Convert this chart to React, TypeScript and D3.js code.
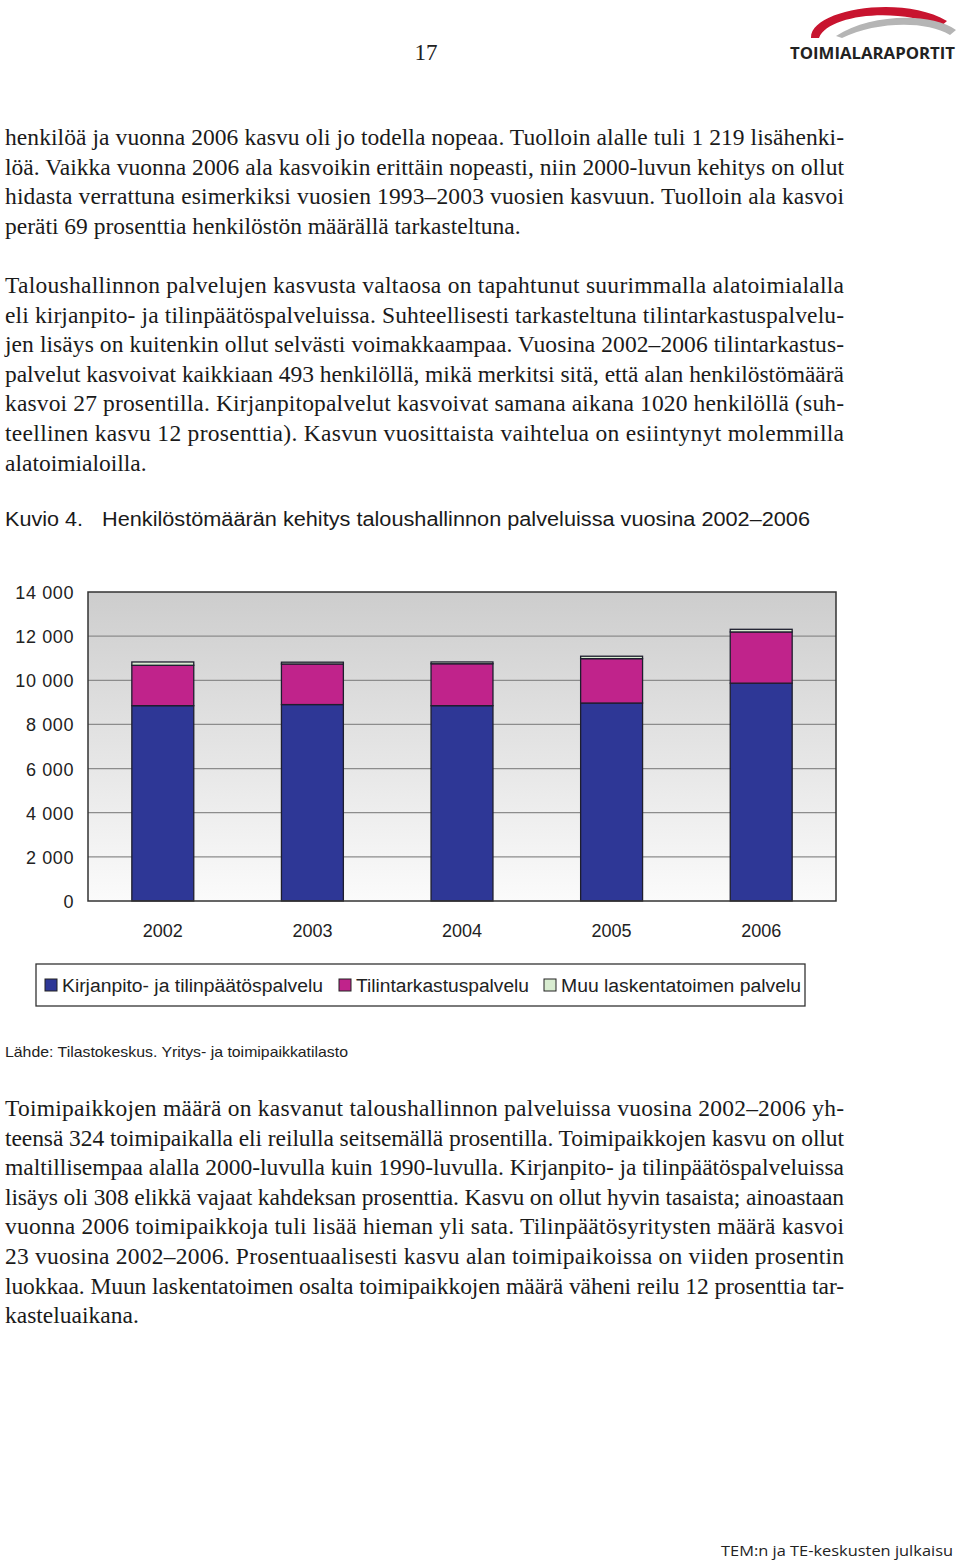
import React from 'react';
import * as d3 from 'd3';

// chart data (persons employed)
const years = ['2002', '2003', '2004', '2005', '2006'];
const kirjanpito = [8850, 8900, 8850, 8970, 9870];
const tilintarkastus = [1830, 1840, 1900, 2010, 2320];
const muu = [150, 80, 80, 110, 120];
const seriesNames = ['Kirjanpito- ja tilinpäätöspalvelu', 'Tilintarkastuspalvelu', 'Muu laskentatoimen palvelu'];
const seriesColors = ['#2e3796', '#c0238b', '#d8ecd0'];
const yTicks = [0, 2000, 4000, 6000, 8000, 10000, 12000, 14000];

// page text, one entry per printed line
const para1 = [
  'henkilöä ja vuonna 2006 kasvu oli jo todella nopeaa. Tuolloin alalle tuli 1 219 lisähenki-',
  'löä. Vaikka vuonna 2006 ala kasvoikin erittäin nopeasti, niin 2000-luvun kehitys on ollut',
  'hidasta verrattuna esimerkiksi vuosien 1993–2003 vuosien kasvuun. Tuolloin ala kasvoi',
  'peräti 69 prosenttia henkilöstön määrällä tarkasteltuna.',
];
const para2 = [
  'Taloushallinnon palvelujen kasvusta valtaosa on tapahtunut suurimmalla alatoimialalla',
  'eli kirjanpito- ja tilinpäätöspalveluissa. Suhteellisesti tarkasteltuna tilintarkastuspalvelu-',
  'jen lisäys on kuitenkin ollut selvästi voimakkaampaa. Vuosina 2002–2006 tilintarkastus-',
  'palvelut kasvoivat kaikkiaan 493 henkilöllä, mikä merkitsi sitä, että alan henkilöstömäärä',
  'kasvoi 27 prosentilla. Kirjanpitopalvelut kasvoivat samana aikana 1020 henkilöllä (suh-',
  'teellinen kasvu 12 prosenttia). Kasvun vuosittaista vaihtelua on esiintynyt molemmilla',
  'alatoimialoilla.',
];
const para3 = [
  'Toimipaikkojen määrä on kasvanut taloushallinnon palveluissa vuosina 2002–2006 yh-',
  'teensä 324 toimipaikalla eli reilulla seitsemällä prosentilla. Toimipaikkojen kasvu on ollut',
  'maltillisempaa alalla 2000-luvulla kuin 1990-luvulla. Kirjanpito- ja tilinpäätöspalveluissa',
  'lisäys oli 308 elikkä vajaat kahdeksan prosenttia. Kasvu on ollut hyvin tasaista; ainoastaan',
  'vuonna 2006 toimipaikkoja tuli lisää hieman yli sata. Tilinpäätösyritysten määrä kasvoi',
  '23 vuosina 2002–2006. Prosentuaalisesti kasvu alan toimipaikoissa on viiden prosentin',
  'luokkaa. Muun laskentatoimen osalta toimipaikkojen määrä väheni reilu 12 prosenttia tar-',
  'kasteluaikana.',
];

const serif = '"Liberation Serif", "Times New Roman", serif';
const sans = '"Liberation Sans", Arial, sans-serif';

const Paragraph = ({ lines, top }: { lines: string[]; top: number }) => (
  <g fontFamily={serif} fontSize={23.5} fill="#1a1a1a">
    {lines.map((l, i) => {
      const last = i === lines.length - 1;
      return (
        <text key={i} x={5} y={top + i * 29.6}
          textLength={last ? undefined : 839} lengthAdjust={last ? undefined : 'spacing'}>
          {l}
        </text>
      );
    })}
  </g>
);

const App = () => {
  const left = 88, right = 836, top = 592, bottom = 901;

  const x = d3.scaleBand().domain(years).range([left, right]).paddingInner(0.586).paddingOuter(0.293);
  const y = d3.scaleLinear().domain([0, 14000]).range([bottom, top]);

  const rows = years.map((yr, i) => ({ year: yr, k: kirjanpito[i], t: tilintarkastus[i], m: muu[i] }));
  const stack = d3.stack<any>().keys(['k', 't', 'm'])(rows);

  const legendItems = [
    { x: 45, label: seriesNames[0], w: 261 },
    { x: 339, label: seriesNames[1], w: 173 },
    { x: 544, label: seriesNames[2], w: 240 },
  ];

  return (
    <svg width={960} height={1564} style={{ position: 'absolute', left: 0, top: 0, background: '#fff' }}>
      <defs>
        <linearGradient id="plotBg" x1="0" y1="0" x2="0" y2="1">
          <stop offset="0" stopColor="#cdcdcd" />
          <stop offset="1" stopColor="#fbfbfb" />
        </linearGradient>
      </defs>

      {/* header */}
      <text x={426} y={60} textAnchor="middle" fontFamily={serif} fontSize={23} fill="#222">17</text>
      <path d="M811,38 C810,10 900,-6 947,21 L940,27 C900,7 828,14 819,38 Z" fill="#c8142f" />
      <path d="M836,36 C870,14 930,12 956,30 L950,35 C925,20 875,22 842,38 Z" fill="#b5b5b5" />
      <text x={790} y={59} fontFamily={'"Open Sans", sans-serif'} fontWeight="bold" fontSize={16}
        textLength={165} lengthAdjust="spacingAndGlyphs" fill="#222">TOIMIALARAPORTIT</text>

      <Paragraph lines={para1} top={145} />
      <Paragraph lines={para2} top={293} />

      {/* figure caption */}
      <text x={5} y={526} fontFamily={sans} fontSize={20} fill="#1a1a1a" textLength={78} lengthAdjust="spacingAndGlyphs">Kuvio 4.</text>
      <text x={102} y={526} fontFamily={sans} fontSize={20} fill="#1a1a1a" textLength={708} lengthAdjust="spacingAndGlyphs">
        Henkilöstömäärän kehitys taloushallinnon palveluissa vuosina 2002–2006
      </text>

      {/* plot area */}
      <rect x={left} y={top} width={right - left} height={bottom - top} fill="url(#plotBg)" />
      {yTicks.slice(1, -1).map((t) => (
        <line key={t} x1={left} x2={right} y1={y(t)} y2={y(t)} stroke="#8c8c8c" strokeWidth={1.2} />
      ))}
      {stack.map((s, si) => (
        <g key={si}>
          {s.map((d: any, i: number) => (
            <rect key={i} x={x(years[i])} y={y(d[1])} width={x.bandwidth()} height={y(d[0]) - y(d[1])}
              fill={seriesColors[si]} stroke="#1e1e2e" strokeWidth={1.3} />
          ))}
        </g>
      ))}
      <rect x={left} y={top} width={right - left} height={bottom - top} fill="none" stroke="#333" strokeWidth={1.5} />

      {/* y axis labels */}
      {yTicks.map((t) => (
        <text key={t} x={74} y={y(t) + 7} textAnchor="end" fontFamily={sans} fontSize={18} letterSpacing={0.6} fill="#222">
          {d3.format(',')(t).replace(/,/g, ' ')}
        </text>
      ))}
      {/* x axis labels */}
      {years.map((yr) => (
        <text key={yr} x={(x(yr) as number) + x.bandwidth() / 2} y={937} textAnchor="middle"
          fontFamily={sans} fontSize={18} fill="#222">{yr}</text>
      ))}

      {/* legend */}
      <rect x={36} y={964} width={769} height={42} fill="#fff" stroke="#333" strokeWidth={1.3} />
      {legendItems.map((it, i) => (
        <g key={i}>
          <rect x={it.x} y={979} width={12} height={12} fill={seriesColors[i]} stroke="#222" strokeWidth={1} />
          <text x={it.x + 17} y={992} fontFamily={sans} fontSize={18} fill="#222"
            textLength={it.w} lengthAdjust="spacingAndGlyphs">{it.label}</text>
        </g>
      ))}

      <text x={5} y={1057} fontFamily={sans} fontSize={15} fill="#222" textLength={343} lengthAdjust="spacingAndGlyphs">
        Lähde: Tilastokeskus. Yritys- ja toimipaikkatilasto
      </text>

      <Paragraph lines={para3} top={1116} />

      <text x={721} y={1556} fontFamily={'"Open Sans", sans-serif'} fontSize={15} fill="#222"
        textLength={232} lengthAdjust="spacingAndGlyphs">TEM:n ja TE-keskusten julkaisu</text>
    </svg>
  );
};

export default App;
